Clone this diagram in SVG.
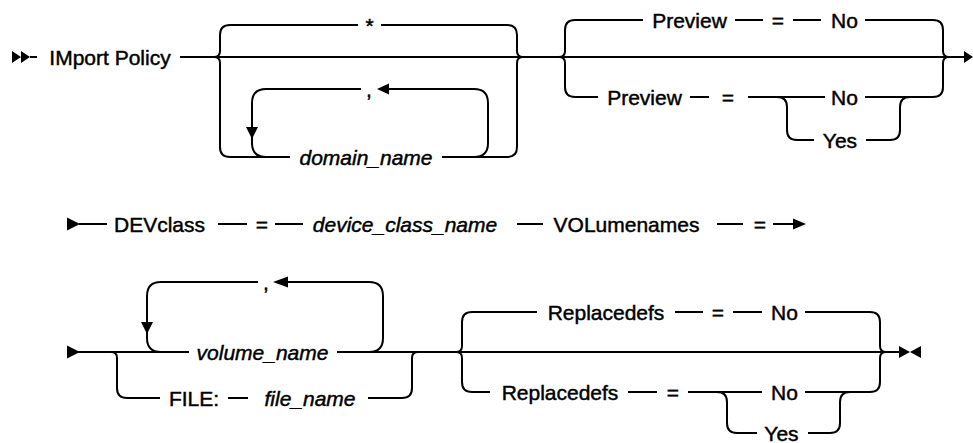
<svg xmlns="http://www.w3.org/2000/svg" width="973" height="443" viewBox="0 0 973 443">
<style>
  .ln { fill: none; stroke: #000; stroke-width: 2; }
  .ar { fill: #000; stroke: none; }
  text { font-family: "Liberation Sans", Arial, sans-serif; font-size: 21px; fill: #000; stroke: #000; stroke-width: 0.45px; text-anchor: middle; }
  .var { font-style: italic; }
</style>
<rect x="0" y="0" width="973" height="443" fill="#fff"/>

<g id="connectors">
  <!-- Row 1 -->
  <path class="ln" d="M30,57 L37,57"/>
  <path class="ln" d="M180,57 L966,57"/>
  <!-- group 1 braces -->
  <path class="ln" d="M214,57 Q220,57 220,51 L220,35 Q220,25 230,25 L358,25 M381,25 L507,25 Q517,25 517,35 L517,51 Q517,57 523,57"/>
  <path class="ln" d="M214,57 Q220,57 220,63 L220,147 Q220,157 230,157 L290,157 M442,157 L507,157 Q517,157 517,147 L517,63 Q517,57 523,57"/>
  <!-- repeat loop domain_name -->
  <path class="ln" d="M474,157 Q488,157 488,143 L488,103 Q488,89 474,89 L388,89 M361,89 L266,89 Q252,89 252,103 L252,143 Q252,157 266,157"/>
  <!-- Preview group -->
  <path class="ln" d="M559,57 Q565,57 565,51 L565,30 Q565,20 575,20 L643,20 M735,20 L763,20 M793,20 L821,20 M865,20 L933,20 Q943,20 943,30 L943,51 Q943,57 949,57"/>
  <path class="ln" d="M559,57 Q565,57 565,63 L565,87 Q565,97 575,97 L598,97 M690,97 L709,97 M748,97 L825,97 M865,97 L933,97 Q943,97 943,87 L943,63 Q943,57 949,57"/>
  <path class="ln" d="M777,97 Q787,97 787,107 L787,130 Q787,140 797,140 L814,140 M866,140 L890,140 Q900,140 900,130 L900,107 Q900,97 910,97"/>

  <!-- Row 2 -->
  <path class="ln" d="M79,224 L107,224 M218,224 L247,224 M275,224 L303,224 M517,224 L543,224 M717,224 L743,224 M773,224 L795,224"/>

  <!-- Row 3 -->
  <path class="ln" d="M78,352 L189,352 M337,352 L899,352"/>
  <!-- repeat loop volume_name -->
  <path class="ln" d="M369,352 Q383,352 383,338 L383,296 Q383,282 369,282 L287,282 M258,282 L161,282 Q147,282 147,296 L147,338 Q147,352 161,352"/>
  <!-- FILE branch -->
  <path class="ln" d="M111,352 Q117,352 117,358 L117,388 Q117,398 127,398 L160,398 M228,398 L248,398 M368,398 L402,398 Q412,398 412,388 L412,358 Q412,352 418,352"/>
  <!-- Replacedefs group -->
  <path class="ln" d="M456,352 Q462,352 462,346 L462,322 Q462,312 472,312 L537,312 M675,312 L703,312 M733,312 L762,312 M805,312 L870,312 Q880,312 880,322 L880,346 Q880,352 886,352"/>
  <path class="ln" d="M456,352 Q462,352 462,358 L462,382 Q462,392 472,392 L490,392 M628,392 L657,392 M688,392 L762,392 M805,392 L870,392 Q880,392 880,382 L880,358 Q880,352 886,352"/>
  <path class="ln" d="M717,392 Q727,392 727,402 L727,423 Q727,433 737,433 L757,433 M808,433 L830,433 Q840,433 840,423 L840,402 Q840,392 850,392"/>

  <!-- arrowheads and markers -->
  <polygon class="ar" points="12,51 21,57 12,63"/>
  <polygon class="ar" points="21,51 30,57 21,63"/>
  <polygon class="ar" points="964,51 973,57 964,63"/>
  <polygon class="ar" points="377,89 389,83.5 389,94.5"/>
  <polygon class="ar" points="252,139 246,127 258,127"/>
  <polygon class="ar" points="67,217.5 80,224 67,230.5"/>
  <polygon class="ar" points="793,218.5 806,224 793,229.5"/>
  <polygon class="ar" points="67,345.5 80,352 67,358.5"/>
  <polygon class="ar" points="273,282 288,276.5 288,287.5"/>
  <polygon class="ar" points="147,334 141,322 153,322"/>
  <polygon class="ar" points="899,346 910,352 899,358"/>
  <polygon class="ar" points="921,346 910,352 921,358"/>
</g>

<g id="n-import"><text x="110" y="64.5">IMport Policy</text></g>
<g id="n-star"><text x="369.5" y="33">*</text></g>
<g id="n-comma1"><text x="369" y="96.5">,</text></g>
<g id="n-domain"><text class="var" x="366" y="164.5">domain_name</text></g>

<g id="n-preview1"><text x="689.5" y="27.5">Preview</text></g>
<g id="n-eq1"><text x="778" y="27.5">=</text></g>
<g id="n-no1"><text x="844.5" y="27.5">No</text></g>
<g id="n-preview2"><text x="644.5" y="104.5">Preview</text></g>
<g id="n-eq2"><text x="728" y="104.5">=</text></g>
<g id="n-no2"><text x="844.5" y="104.5">No</text></g>
<g id="n-yes1"><text x="840" y="147.5">Yes</text></g>

<g id="n-devclass"><text x="159.5" y="231.5">DEVclass</text></g>
<g id="n-eq3"><text x="262" y="231.5">=</text></g>
<g id="n-devname"><text class="var" x="405" y="231.5">device_class_name</text></g>
<g id="n-volnames"><text x="626.5" y="231.5">VOLumenames</text></g>
<g id="n-eq4"><text x="760" y="231.5">=</text></g>

<g id="n-comma2"><text x="266" y="289.5">,</text></g>
<g id="n-volume"><text class="var" x="262.5" y="359.5">volume_name</text></g>
<g id="n-file"><text x="194" y="405.5">FILE:</text></g>
<g id="n-filename"><text class="var" x="310" y="405.5">file_name</text></g>

<g id="n-repl1"><text x="606" y="319.5">Replacedefs</text></g>
<g id="n-eq5"><text x="718" y="319.5">=</text></g>
<g id="n-no3"><text x="784.5" y="319.5">No</text></g>
<g id="n-repl2"><text x="560" y="399.5">Replacedefs</text></g>
<g id="n-eq6"><text x="673" y="399.5">=</text></g>
<g id="n-no4"><text x="784.5" y="399.5">No</text></g>
<g id="n-yes2"><text x="781.5" y="440.5">Yes</text></g>
</svg>
